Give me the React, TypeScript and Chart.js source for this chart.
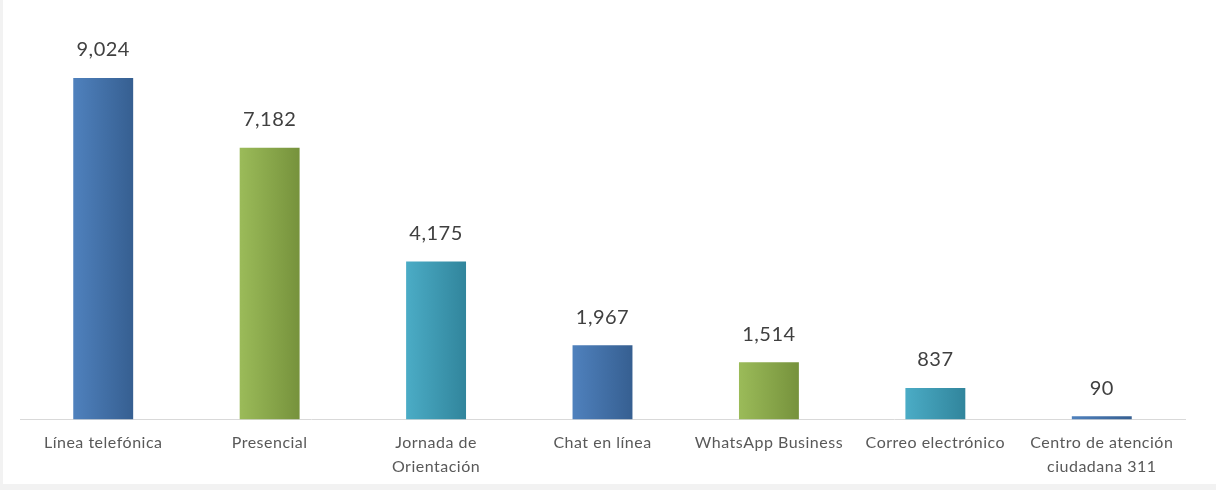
import React, { useEffect, useRef } from "react";
import { Chart, registerables } from "chart.js";

Chart.register(...registerables);

const categories: (string | string[])[] = [
  "Línea telefónica",
  "Presencial",
  ["Jornada de", "Orientación"],
  "Chat en línea",
  "WhatsApp Business",
  "Correo electrónico",
  ["Centro de atención", "ciudadana 311"],
];
const values: number[] = [9024, 7182, 4175, 1967, 1514, 837, 90];
const gradientStops: [string, string][] = [
  ["#4f81bd", "#365f91"],
  ["#9bbb59", "#76923c"],
  ["#4bacc6", "#31859c"],
  ["#4f81bd", "#365f91"],
  ["#9bbb59", "#76923c"],
  ["#4bacc6", "#31859c"],
  ["#4f81bd", "#365f91"],
];

const FONT = "Lato, 'Open Sans', sans-serif";
const BAR_FRACTION = 0.36;

const spacingPlugin = {
  id: "letterSpacing",
  beforeDraw(chart: any) {
    chart.ctx.letterSpacing = "0.5px";
  },
  afterDraw(chart: any) {
    chart.ctx.letterSpacing = "0px";
  },
};

const labelPlugin = {
  id: "valueLabels",
  afterDatasetsDraw(chart: any) {
    const ctx = chart.ctx;
    const meta = chart.getDatasetMeta(0);
    ctx.save();
    ctx.font = `20px ${FONT}`;
    ctx.fillStyle = "#404040";
    ctx.textAlign = "center";
    ctx.textBaseline = "middle";
    meta.data.forEach((el: any, i: number) => {
      ctx.fillText(values[i].toLocaleString("en-US"), el.x, el.y - 28);
    });
    ctx.restore();
  },
};

function barFill(context: any) {
  const chart = context.chart;
  const i = context.dataIndex;
  const [a, b] = gradientStops[i % gradientStops.length];
  const xs = chart.scales && chart.scales.x;
  if (!xs || !chart.chartArea) return a;
  const cx = xs.getPixelForValue(i);
  const w = (xs.width / categories.length) * BAR_FRACTION;
  const g = chart.ctx.createLinearGradient(cx - w / 2, 0, cx + w / 2, 0);
  g.addColorStop(0, a);
  g.addColorStop(1, b);
  return g;
}

export default function App() {
  const ref = useRef<HTMLCanvasElement | null>(null);
  useEffect(() => {
    document.body.style.margin = "0";
    const chart = new Chart(ref.current as HTMLCanvasElement, {
      type: "bar",
      data: {
        labels: categories,
        datasets: [
          {
            data: values,
            backgroundColor: barFill,
            barPercentage: BAR_FRACTION,
            categoryPercentage: 1,
          },
        ],
      },
      options: {
        animation: false,
        responsive: false,
        maintainAspectRatio: false,
        layout: { padding: { left: 17, right: 31, top: 41, bottom: -6 } },
        plugins: { legend: { display: false }, tooltip: { enabled: false } },
        scales: {
          y: { display: false, min: 0, max: 10000 },
          x: {
            grid: { display: false, drawTicks: false },
            border: { display: true, color: "#d9d9d9", width: 1 },
            ticks: {
              color: "#595959",
              padding: 12,
              maxRotation: 0,
              autoSkip: false,
              font: { family: FONT, size: 16, lineHeight: 1.45 },
            },
          },
        },
      },
      plugins: [spacingPlugin, labelPlugin],
    });
    return () => chart.destroy();
  }, []);
  return (
    <div style={{ position: "fixed", left: 0, top: 0, width: 1216, height: 490, background: "#f2f2f2" }}>
      <div style={{ position: "absolute", left: 3, top: 0, width: 1213, height: 484, background: "#ffffff" }}>
        <canvas ref={ref} width={1213} height={484} style={{ display: "block" }} />
      </div>
    </div>
  );
}
